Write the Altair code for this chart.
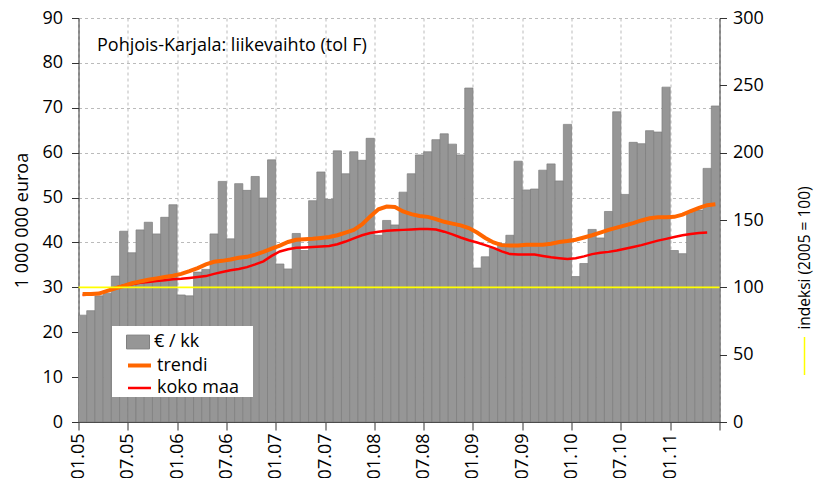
import altair as alt
import pandas as pd

FONT = "Open Sans"

tick_labels = ["01.05", "07.05", "01.06", "07.06", "01.07", "07.07", "01.08",
               "07.08", "01.09", "07.09", "01.10", "07.10", "01.11", ""]

# € / kk  (1 000 000 euroa), monthly 01.05 .. 06.11
values = [23.8, 24.8, 28.1, 28.7, 32.5, 42.5, 37.7, 42.8, 44.5, 41.9, 45.6, 48.4,
          28.3, 28.1, 33.4, 34.0, 41.9, 53.6, 40.8, 53.1, 51.6, 54.7, 49.9, 58.4,
          35.2, 34.1, 42.0, 38.2, 49.3, 55.7, 49.6, 60.4, 55.3, 60.2, 58.3, 63.2,
          41.6, 44.9, 43.9, 51.2, 55.3, 59.5, 60.2, 62.9, 64.2, 61.9, 59.5, 74.4,
          34.3, 36.8, 38.7, 39.7, 41.6, 58.1, 51.7, 51.9, 56.1, 57.5, 53.7, 66.3,
          32.4, 35.3, 42.9, 41.0, 46.9, 69.1, 50.7, 62.3, 62.0, 64.9, 64.6, 74.6,
          38.2, 37.5, 46.9, 47.2, 56.5, 70.4]

trendi = [28.5, 28.5, 28.6, 29.2, 29.8, 30.3, 30.9, 31.3, 31.7, 32.0, 32.3, 32.6,
          33.0, 33.6, 34.3, 35.1, 35.7, 35.9, 36.2, 36.6, 36.8, 37.3, 37.9, 38.6,
          39.3, 40.1, 40.6, 40.7, 40.8, 41.0, 41.2, 41.6, 42.2, 42.8, 44.0, 45.8,
          47.4, 48.0, 47.9, 46.9, 46.3, 45.9, 45.7, 45.2, 44.6, 44.2, 43.8, 43.2,
          42.2, 41.0, 40.0, 39.4, 39.3, 39.3, 39.5, 39.5, 39.5, 39.7, 40.1, 40.3,
          40.6, 41.1, 41.6, 42.2, 42.8, 43.3, 43.8, 44.3, 44.9, 45.4, 45.6, 45.6,
          45.7, 46.2, 47.0, 47.7, 48.3, 48.5]

koko_maa = [28.3, 28.4, 28.7, 29.2, 29.9, 30.4, 30.7, 31.0, 31.2, 31.4, 31.6, 31.8,
            31.9, 32.1, 32.3, 32.5, 33.0, 33.4, 33.8, 34.1, 34.5, 35.1, 35.8, 37.0,
            38.0, 38.5, 38.8, 38.9, 39.0, 39.1, 39.2, 39.6, 40.2, 40.9, 41.6, 42.1,
            42.4, 42.6, 42.7, 42.8, 42.9, 43.0, 43.0, 42.9, 42.4, 41.8, 41.1, 40.5,
            40.0, 39.4, 38.8, 38.0, 37.4, 37.3, 37.3, 37.3, 37.0, 36.7, 36.5, 36.3,
            36.5, 36.9, 37.4, 37.7, 37.9, 38.2, 38.6, 39.0, 39.4, 39.9, 40.4, 40.8,
            41.2, 41.6, 41.9, 42.1, 42.2]

index_level = 100
title_text = "Pohjois-Karjala: liikevaihto (tol F)"
bar_series = ["€ / kk"]
line_series = ["trendi", "koko maa"]

n = len(values)
bars_df = pd.DataFrame({"i": list(range(n)), "i1": [k + 1 for k in range(n)],
                        "v": values, "series": bar_series * n})
lines_df = pd.DataFrame(
    [{"mid": k + 0.5, "val": t, "series": "trendi"} for k, t in enumerate(trendi)]
    + [{"mid": k + 0.5, "val": t, "series": "koko maa"} for k, t in enumerate(koko_maa)]
)
index_df = pd.DataFrame({"x0": [0], "x1": [n], "v": [index_level]})
title_df = pd.DataFrame({"t": [title_text]})

fill_legend = alt.Legend(
    orient="none", legendX=47.5, legendY=312, title=None, padding=0,
    labelOffset=4, labelFontSize=18, labelFont=FONT, labelColor="black",
    symbolType="M-1,-0.6H1V0.6H-1Z", symbolSize=529,
    symbolStrokeColor="#808080", symbolStrokeWidth=1, symbolOpacity=1,
)
stroke_legend = alt.Legend(
    orient="none", legendX=47.5, legendY=334, title=None, padding=0,
    labelOffset=4, labelFontSize=18, labelFont=FONT, labelColor="black",
    symbolType="stroke", symbolSize=529, rowPadding=0, symbolOpacity=1,
)
stroke_scale = alt.Scale(domain=line_series, range=["#ff6600", "#ff0000"])
width_scale = alt.Scale(domain=line_series, range=[4, 2.5])

x_tick_vals = list(range(0, n + 1, 6))
label_expr = "[" + ",".join("'%s'" % s for s in tick_labels) + "][round(datum.value / 6)]"

x_enc = alt.X("i:Q", scale=alt.Scale(domain=[0, n], nice=False, zero=False),
              axis=alt.Axis(values=x_tick_vals, labelExpr=label_expr, labelAngle=-90,
                            title=None, grid=True, gridDash=[3, 3], gridColor="#bbbbbb",
                            tickSize=8, labelPadding=3, labelFontSize=18))
y_left = alt.Scale(domain=[0, 90], nice=False)

bars = alt.Chart(bars_df).mark_bar(stroke="#7d7d7d", strokeWidth=0.7, opacity=1).encode(
    x=x_enc, x2="i1:Q",
    y=alt.Y("v:Q", scale=y_left,
            axis=alt.Axis(values=list(range(0, 91, 10)), title="1 000 000 euroa",
                          grid=True, gridDash=[3, 3], gridColor="#bbbbbb",
                          tickSize=7, labelPadding=9, titleX=-56, titleBaseline="middle",
                          titleFontSize=18, labelFontSize=18, titleFontWeight="normal")),
    y2=alt.datum(0),
    fill=alt.Fill("series:N", scale=alt.Scale(domain=bar_series, range=["#969696"]),
                  legend=fill_legend),
)

legend_box = alt.Chart(title_df).mark_rect(color="white").encode(
    x=alt.value(33.5), x2=alt.value(174.5), y=alt.value(308), y2=alt.value(379))


def line_layer(name):
    return alt.Chart(lines_df).transform_filter(
        "datum.series === '%s'" % name).mark_line().encode(
        x="mid:Q", y=alt.Y("val:Q", scale=y_left),
        stroke=alt.Stroke("series:N", scale=stroke_scale, legend=stroke_legend),
        strokeWidth=alt.StrokeWidth("series:N", scale=width_scale, legend=stroke_legend),
    )


koko = line_layer("koko maa")
trend = line_layer("trendi")

title = alt.Chart(title_df).mark_text(align="left", baseline="middle", fontSize=18,
                                      font=FONT, color="black").encode(
    text="t:N", x=alt.value(18.5), y=alt.value(28))

left = alt.layer(bars, koko, trend, legend_box, title)

yellow = alt.Chart(index_df).mark_rule(color="#ffff00", strokeWidth=1.6).encode(
    x="x0:Q", x2="x1:Q",
    y=alt.Y("v:Q", scale=alt.Scale(domain=[0, 300], nice=False),
            axis=alt.Axis(orient="right", values=list(range(0, 301, 50)),
                          title="indeksi (2005 = 100)", grid=False, tickSize=7,
                          labelPadding=6, titleAngle=270, titleX=85, titleY=239.5,
                          titleBaseline="middle", titleFontSize=15.5, labelFontSize=18,
                          titleFontWeight="normal")),
)
marker = alt.Chart(index_df).mark_rule(color="#ffff00", strokeWidth=1.5).encode(
    x=alt.value(726), y=alt.value(319), y2=alt.value(357))

right = alt.layer(yellow, marker)

chart = alt.layer(left, right).resolve_scale(y="independent").properties(
    width=641, height=404, background="white",
    padding={"left": 70.5, "top": 10, "right": 99.5, "bottom": 56},
    autosize=alt.AutoSizeParams(type="none"),
).configure_view(stroke=None).configure_axis(
    labelFont=FONT, titleFont=FONT, labelColor="black", titleColor="black",
    titleFontWeight="normal", domainColor="#333333", tickColor="#333333",
)

chart.save("out.html", embed_options={"renderer": "svg", "actions": False})
